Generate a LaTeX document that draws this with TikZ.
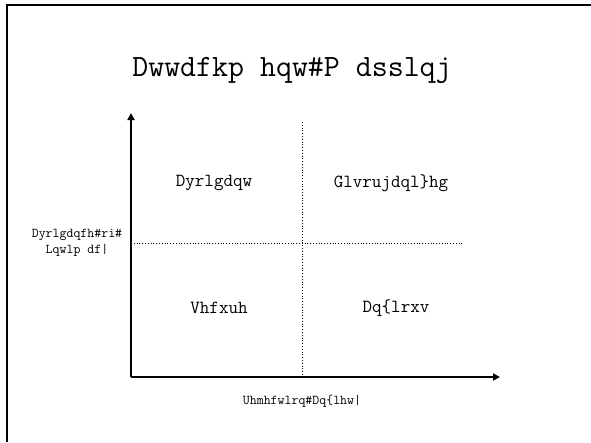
\documentclass[tikz,border=0pt]{standalone}
\usepackage{fontspec}
\usetikzlibrary{arrows.meta}
\newfontfamily\slidefont{Latin Modern Mono}
\begin{document}
\begin{tikzpicture}[x=1pt,y=-1pt,
  frameline/.style={line width=1.6pt,black},
  axisline/.style={line width=2.4pt,black,-{Triangle[length=7pt,width=7pt]}},
  divider/.style={line width=0.8pt,black,dotted},
  titletext/.style={font=\slidefont\fontsize{31}{36}\selectfont,inner sep=0pt},
  quadtext/.style={font=\slidefont\fontsize{18.5}{20}\selectfont,inner sep=0pt},
  axistext/.style={font=\slidefont\fontsize{13.5}{16}\selectfont,inner sep=0pt,align=center}]
\useasboundingbox (0,0) rectangle (591,442);
\fill[white] (0,0) rectangle (591,442);
% slide frame (runs off the right and bottom edges)
\draw[frameline] (7,442) -- (7,5) -- (591,5);
% title
\node[titletext] (title) at (292,70) {Dwwdfkp hqw\#P dsslqj};
% axes
\coordinate (origin) at (131,377);
\coordinate (ytip) at (131,113);
\coordinate (xtip) at (500,377);
\draw[axisline] (origin) -- (ytip);
\draw[axisline] (origin) -- (xtip);
% quadrant dividers
\coordinate (vtop) at (302,122);
\coordinate (vbot) at (302,377);
\coordinate (hleft) at (131,243);
\coordinate (hright) at (464,243);
\draw[divider] (vtop) -- (vbot);
\draw[divider] (hleft) -- (hright);
% quadrant labels
\node[quadtext] (avoidant) at (214,183) {Dyrlgdqw};
\node[quadtext] (disorg) at (391,183) {Glvrujdql\}hg};
\node[quadtext] (secure) at (219,308) {Vhfxuh};
\node[quadtext] (anxious) at (396,308) {Dq\{lrxv};
% axis labels
\node[axistext] (ylabel) at (77,243) {Dyrlgdqfh\#ri\#\\Lqwlp df|};
\node[axistext] (xlabel) at (302,401) {Uhmhfwlrq\#Dq\{lhw|};
\end{tikzpicture}
\end{document}
